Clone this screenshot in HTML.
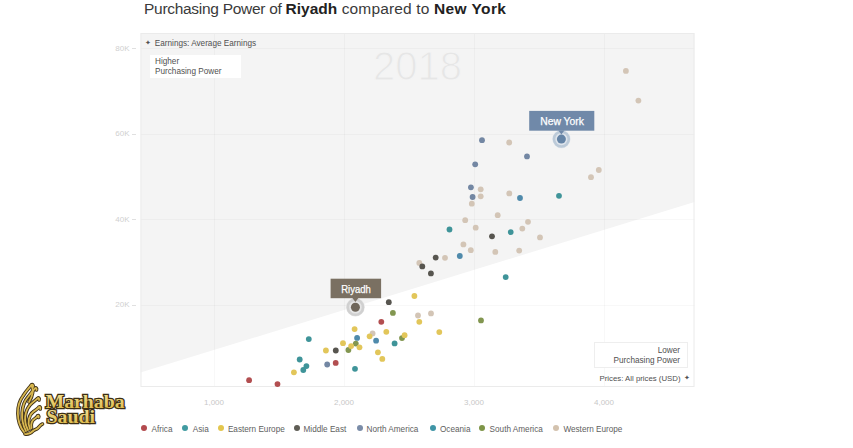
<!DOCTYPE html>
<html><head><meta charset="utf-8">
<style>
html,body{margin:0;padding:0;background:#fff;}
body{width:853px;height:448px;position:relative;overflow:hidden;font-family:"Liberation Sans",sans-serif;}
.abs{position:absolute;}
#title{left:144px;top:-0.5px;font-size:15.5px;color:#3a3a3a;white-space:nowrap;line-height:18px;}
#title b{color:#222;}
.yl{position:absolute;font-size:8px;color:#d0d0d0;width:30px;text-align:right;left:99.5px;line-height:9px;}
.xl{position:absolute;font-size:8px;color:#c8c8c8;width:40px;text-align:center;line-height:9px;top:397.5px;}
.lg{position:absolute;top:425.3px;font-size:8.2px;color:#606060;line-height:9px;white-space:nowrap;}
.ld{position:absolute;top:425px;width:6px;height:6px;border-radius:50%;}
.t8{font-size:8.2px;color:#505050;line-height:9.8px;white-space:nowrap;}
.star{display:inline-block;font-size:7px;vertical-align:0.5px;margin-right:1.5px;}
</style></head><body>
<div id="title" class="abs"><span style="letter-spacing:-0.29px">Purchasing Power of </span><b>Riyadh</b><span style="letter-spacing:0.15px"> compared to </span><b style="letter-spacing:0.4px">New York</b></div>

<svg class="abs" style="left:0;top:0" width="853" height="448">
  <rect x="140.5" y="33" width="554" height="354" fill="#f4f4f4"/>
  <polygon points="140.5,372.6 694.5,202 694.5,387 140.5,387" fill="#ffffff"/>
  <g stroke="rgba(0,0,0,0.028)" stroke-width="1" fill="none">
    <line x1="140.5" y1="48.5" x2="694.5" y2="48.5"/>
    <line x1="140.5" y1="134.5" x2="694.5" y2="134.5"/>
    <line x1="140.5" y1="219.5" x2="694.5" y2="219.5"/>
    <line x1="140.5" y1="305.5" x2="694.5" y2="305.5"/>
    <line x1="214.5" y1="33" x2="214.5" y2="387"/>
    <line x1="344.5" y1="33" x2="344.5" y2="387"/>
    <line x1="474.5" y1="33" x2="474.5" y2="387"/>
    <line x1="604.5" y1="33" x2="604.5" y2="387"/>
  </g>
  <rect x="141" y="33.5" width="553" height="353" fill="none" stroke="#ebebeb" stroke-width="1"/>
  <g stroke="#e0e0e0">
    <line x1="132" y1="48.5" x2="136" y2="48.5"/>
    <line x1="132" y1="134.5" x2="136" y2="134.5"/>
    <line x1="132" y1="219.5" x2="136" y2="219.5"/>
    <line x1="132" y1="305.5" x2="136" y2="305.5"/>
  </g>
  <text x="417.5" y="80" font-family="Liberation Sans" font-size="40" fill="#e6e6e6" stroke="#f4f4f4" stroke-width="1.1" text-anchor="middle">2018</text>
  <g id="dots">
  <circle cx="625.9" cy="70.9" r="2.9" fill="#d3c5b6"/>
  <circle cx="638.4" cy="100.6" r="2.9" fill="#d3c5b6"/>
  <circle cx="509.2" cy="142.5" r="2.9" fill="#d3c5b6"/>
  <circle cx="598.8" cy="170" r="2.9" fill="#d3c5b6"/>
  <circle cx="591" cy="177.2" r="2.9" fill="#d3c5b6"/>
  <circle cx="480.7" cy="189.3" r="2.9" fill="#d3c5b6"/>
  <circle cx="480.7" cy="196.3" r="2.9" fill="#d3c5b6"/>
  <circle cx="471.8" cy="203.7" r="2.9" fill="#d3c5b6"/>
  <circle cx="509.3" cy="193.4" r="2.9" fill="#d3c5b6"/>
  <circle cx="497.7" cy="215.2" r="2.9" fill="#d3c5b6"/>
  <circle cx="465.2" cy="220.2" r="2.9" fill="#d3c5b6"/>
  <circle cx="475.7" cy="227.7" r="2.9" fill="#d3c5b6"/>
  <circle cx="528" cy="221.8" r="2.9" fill="#d3c5b6"/>
  <circle cx="522.3" cy="228.6" r="2.9" fill="#d3c5b6"/>
  <circle cx="540" cy="237.4" r="2.9" fill="#d3c5b6"/>
  <circle cx="463.4" cy="244.4" r="2.9" fill="#d3c5b6"/>
  <circle cx="470.8" cy="250.2" r="2.9" fill="#d3c5b6"/>
  <circle cx="495.3" cy="251.9" r="2.9" fill="#d3c5b6"/>
  <circle cx="519.2" cy="250.6" r="2.9" fill="#d3c5b6"/>
  <circle cx="445" cy="257.8" r="2.9" fill="#d3c5b6"/>
  <circle cx="419.3" cy="262.9" r="2.9" fill="#d3c5b6"/>
  <circle cx="418" cy="315.5" r="2.9" fill="#d3c5b6"/>
  <circle cx="431" cy="313.4" r="2.9" fill="#d3c5b6"/>
  <circle cx="372.6" cy="333.4" r="2.9" fill="#d3c5b6"/>
  <circle cx="482" cy="140.2" r="2.9" fill="#7387a3"/>
  <circle cx="527" cy="156.4" r="2.9" fill="#7387a3"/>
  <circle cx="475.2" cy="164.3" r="2.9" fill="#7387a3"/>
  <circle cx="470.9" cy="187.3" r="2.9" fill="#7387a3"/>
  <circle cx="472.6" cy="197" r="2.9" fill="#7387a3"/>
  <circle cx="327.2" cy="364.5" r="2.9" fill="#7387a3"/>
  <circle cx="335.8" cy="350.5" r="2.9" fill="#57554f"/>
  <circle cx="388.8" cy="302.2" r="2.9" fill="#57554f"/>
  <circle cx="422.3" cy="266.4" r="2.9" fill="#57554f"/>
  <circle cx="430.9" cy="273.4" r="2.9" fill="#57554f"/>
  <circle cx="435.7" cy="257.6" r="2.9" fill="#57554f"/>
  <circle cx="492" cy="236.3" r="2.9" fill="#57554f"/>
  <circle cx="303.3" cy="370" r="2.9" fill="#3f9499"/>
  <circle cx="306.4" cy="366.1" r="2.9" fill="#3f9499"/>
  <circle cx="299.7" cy="359.5" r="2.9" fill="#3f9499"/>
  <circle cx="308.8" cy="339.1" r="2.9" fill="#3f9499"/>
  <circle cx="357.1" cy="337.9" r="2.9" fill="#4f8aab"/>
  <circle cx="376.1" cy="340.7" r="2.9" fill="#4f8aab"/>
  <circle cx="394.6" cy="343.4" r="2.9" fill="#3f9499"/>
  <circle cx="355" cy="368.8" r="2.9" fill="#3f9499"/>
  <circle cx="449.5" cy="229.5" r="2.9" fill="#3f9499"/>
  <circle cx="459.8" cy="256" r="2.9" fill="#4f8aab"/>
  <circle cx="505.7" cy="277.1" r="2.9" fill="#3f9499"/>
  <circle cx="510.7" cy="232.1" r="2.9" fill="#3f9499"/>
  <circle cx="520" cy="198" r="2.9" fill="#4f8aab"/>
  <circle cx="559" cy="195.8" r="2.9" fill="#3f9499"/>
  <circle cx="392.9" cy="312.9" r="2.9" fill="#829650"/>
  <circle cx="402" cy="338.1" r="2.9" fill="#829650"/>
  <circle cx="348.4" cy="350" r="2.9" fill="#829650"/>
  <circle cx="355.8" cy="343.6" r="2.9" fill="#829650"/>
  <circle cx="481" cy="320.4" r="2.9" fill="#829650"/>
  <circle cx="293.9" cy="372.3" r="2.9" fill="#e2c65a"/>
  <circle cx="325.9" cy="350.5" r="2.9" fill="#e2c65a"/>
  <circle cx="343" cy="343.2" r="2.9" fill="#e2c65a"/>
  <circle cx="351.1" cy="346.1" r="2.9" fill="#e2c65a"/>
  <circle cx="359.5" cy="347.3" r="2.9" fill="#e2c65a"/>
  <circle cx="354.6" cy="329.1" r="2.9" fill="#e2c65a"/>
  <circle cx="369.6" cy="336.3" r="2.9" fill="#e2c65a"/>
  <circle cx="377.9" cy="352.3" r="2.9" fill="#e2c65a"/>
  <circle cx="382.3" cy="358.9" r="2.9" fill="#e2c65a"/>
  <circle cx="386.3" cy="331.8" r="2.9" fill="#e2c65a"/>
  <circle cx="404.6" cy="335.2" r="2.9" fill="#e2c65a"/>
  <circle cx="414.4" cy="296" r="2.9" fill="#e2c65a"/>
  <circle cx="419.3" cy="321.8" r="2.9" fill="#e2c65a"/>
  <circle cx="439.3" cy="332.1" r="2.9" fill="#e2c65a"/>
  <circle cx="249.1" cy="380.2" r="2.9" fill="#b24e50"/>
  <circle cx="277.5" cy="384.1" r="2.9" fill="#b24e50"/>
  <circle cx="335.7" cy="362.9" r="2.9" fill="#b24e50"/>
  <circle cx="381.3" cy="321.8" r="2.9" fill="#b24e50"/>
  </g>
  <g id="markers">
    <circle cx="355.4" cy="307.2" r="9.3" fill="#e6e6e6"/>
    <circle cx="355.4" cy="307.2" r="7.6" fill="none" stroke="#d0d0d0" stroke-width="2.6"/>
    <circle cx="355.4" cy="307.2" r="4.5" fill="#6f665a"/>
    <rect x="330.6" y="278.7" width="50.5" height="19.5" fill="#7a7062"/>
    <polygon points="352.4,298 358.4,298 355.4,302" fill="#7a7062"/>
    <text x="341.2" y="293" font-family="Liberation Sans" font-size="10.8" fill="#fff" stroke="#fff" stroke-width="0.25" textLength="29.6" lengthAdjust="spacingAndGlyphs">Riyadh</text>
    <circle cx="561.4" cy="139.1" r="9.1" fill="#dfe5ec"/>
    <circle cx="561.4" cy="139.1" r="7.4" fill="none" stroke="#bccad8" stroke-width="2.6"/>
    <circle cx="561.4" cy="139.1" r="4.5" fill="#6584a6"/>
    <rect x="529.2" y="110.9" width="65.1" height="19.8" fill="#7089a9"/>
    <polygon points="558.4,130.5 564.4,130.5 561.4,134.5" fill="#7089a9"/>
    <text x="540.2" y="124.8" font-family="Liberation Sans" font-size="10.5" fill="#fff" stroke="#fff" stroke-width="0.25" textLength="43.7" lengthAdjust="spacingAndGlyphs">New York</text>
  </g>
</svg>

<div class="yl" style="top:44px">80K</div>
<div class="yl" style="top:129px">60K</div>
<div class="yl" style="top:214.5px">40K</div>
<div class="yl" style="top:300px">20K</div>
<div class="xl" style="left:194px">1,000</div>
<div class="xl" style="left:324px">2,000</div>
<div class="xl" style="left:454px">3,000</div>
<div class="xl" style="left:584px">4,000</div>

<div class="abs t8" style="left:145px;top:37.7px"><span class="star">&#10022;</span> Earnings: Average Earnings</div>
<div class="abs" style="left:150.3px;top:54.5px;width:90.5px;height:23px;background:#fff;"></div>
<div class="abs t8" style="left:155px;top:56.6px;line-height:10.1px">Higher<br>Purchasing Power</div>

<div class="abs" style="left:594px;top:341.5px;width:94px;height:26px;background:#fff;border:1px solid #eee;box-sizing:border-box"></div>
<div class="abs t8" style="left:600px;top:346.3px;width:80px;text-align:right">Lower<br>Purchasing Power</div>
<div class="abs t8" style="left:599.5px;top:373px;font-size:7.8px">Prices: All prices (USD) <span class="star" style="margin-left:1px">&#10022;</span></div>

<div class="ld" style="left:141px;background:#b34a4e"></div><div class="lg" style="left:151.5px">Africa</div>
<div class="ld" style="left:182.3px;background:#419ba1"></div><div class="lg" style="left:192.8px">Asia</div>
<div class="ld" style="left:218px;background:#e3c64e"></div><div class="lg" style="left:227.9px">Eastern Europe</div>
<div class="ld" style="left:293.6px;background:#5f5d55"></div><div class="lg" style="left:303.5px">Middle East</div>
<div class="ld" style="left:356.8px;background:#7a8ca8"></div><div class="lg" style="left:366.5px">North America</div>
<div class="ld" style="left:430px;background:#3f95a6"></div><div class="lg" style="left:440px">Oceania</div>
<div class="ld" style="left:479px;background:#7e9548"></div><div class="lg" style="left:489.6px">South America</div>
<div class="ld" style="left:553.3px;background:#d3c2ae"></div><div class="lg" style="left:563.4px">Western Europe</div>

<svg class="abs" style="left:0;top:370px" width="140" height="78">
  <g transform="translate(0,-370)" fill="none" stroke-linecap="round">
    <g stroke="#3f3117" stroke-width="3.6">
      <path d="M24,432 C16,422 16,405 23,396 C26,391 29,388 31.4,385 C32.5,384 33.5,385 33,387"/>
      <path d="M26,431 C20,420 21,405 28,397 C31,393 33,391 35,388.3 C36,387.5 37,388.5 36.5,390"/>
      <path d="M28,430 C23,421 25,411 30,405 C33,402 36,400 37.6,398.3 C38.6,397.5 39.6,398.5 39,400"/>
      <path d="M30,429 C27,422 29,415 33,412 C35.5,410 38,409 39,407 C40,406.5 40.8,407.5 40.2,409"/>
      <path d="M31.5,428 C30.5,423 32.5,420 35,418.5 C36.2,417.8 37,417 37.6,415.8 C38.4,415.2 39.2,416.2 38.6,417.5"/>
      <path d="M31.4,385 C34,390 32,397 29,402"/>
      <path d="M25,434 C29,435 31,433 33,431 C35,429 36,430 38,428 C40,426 40,425 42.5,424"/>
    </g>
    <g stroke="#d9b850" stroke-width="1.8">
      <path d="M24,432 C16,422 16,405 23,396 C26,391 29,388 31.4,385 C32.5,384 33.5,385 33,387"/>
      <path d="M26,431 C20,420 21,405 28,397 C31,393 33,391 35,388.3 C36,387.5 37,388.5 36.5,390"/>
      <path d="M28,430 C23,421 25,411 30,405 C33,402 36,400 37.6,398.3 C38.6,397.5 39.6,398.5 39,400"/>
      <path d="M30,429 C27,422 29,415 33,412 C35.5,410 38,409 39,407 C40,406.5 40.8,407.5 40.2,409"/>
      <path d="M31.5,428 C30.5,423 32.5,420 35,418.5 C36.2,417.8 37,417 37.6,415.8 C38.4,415.2 39.2,416.2 38.6,417.5"/>
      <path d="M31.4,385 C34,390 32,397 29,402"/>
      <path d="M25,434 C29,435 31,433 33,431 C35,429 36,430 38,428 C40,426 40,425 42.5,424"/>
    </g>
    <defs><linearGradient id="gg" x1="0" y1="0" x2="0" y2="1"><stop offset="0" stop-color="#f3e49a"/><stop offset="1" stop-color="#d9b23c"/></linearGradient></defs>
    <text x="45.5" y="408.3" font-family="Liberation Serif" font-weight="bold" font-size="18.5" fill="url(#gg)" stroke="#3d2f14" stroke-width="2.4" paint-order="stroke" textLength="79" lengthAdjust="spacingAndGlyphs">Marhaba</text>
    <text x="46.5" y="423.2" font-family="Liberation Serif" font-weight="bold" font-size="18.5" fill="url(#gg)" stroke="#3d2f14" stroke-width="2.4" paint-order="stroke" textLength="48.5" lengthAdjust="spacingAndGlyphs">Saudi</text>
  </g>
</svg>
</body></html>
